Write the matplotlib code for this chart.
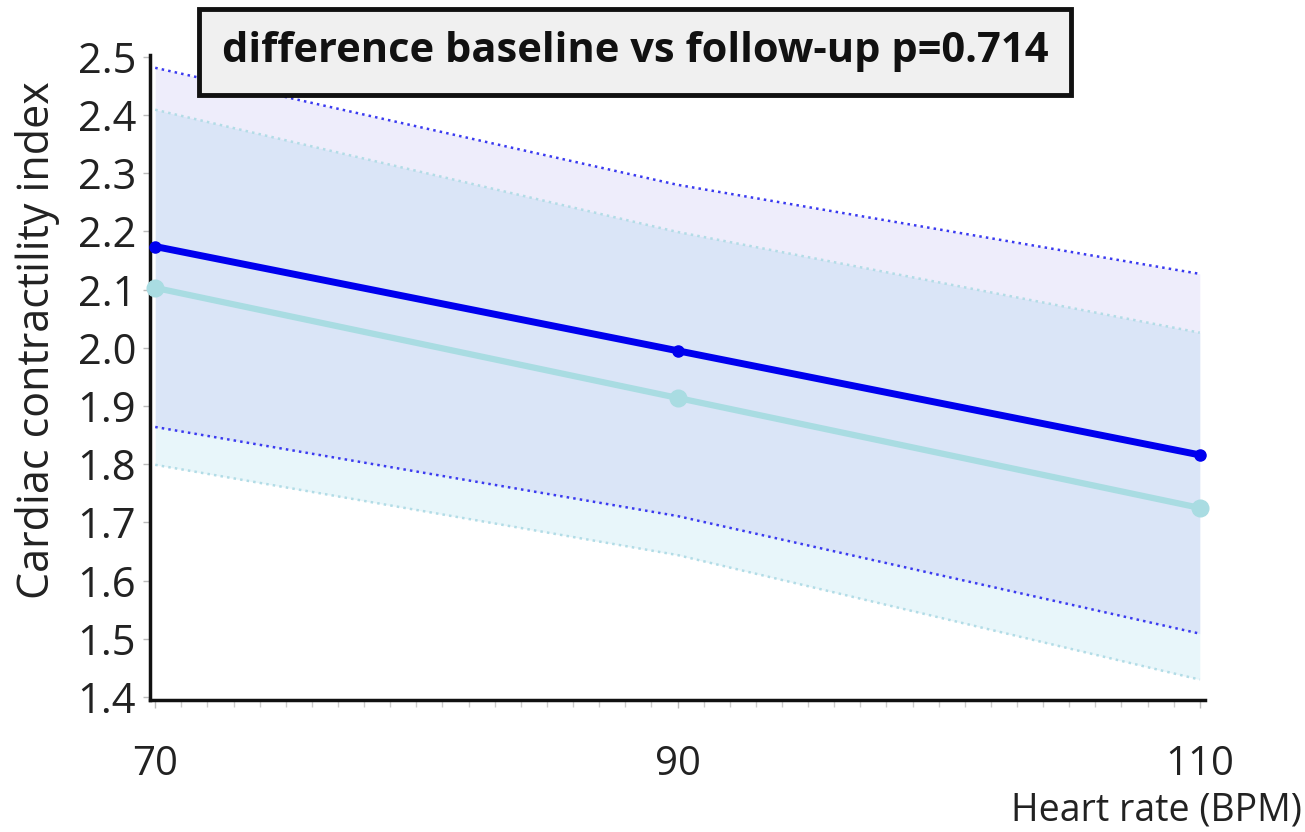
import numpy as np
import matplotlib.pyplot as plt
from matplotlib.ticker import MultipleLocator

plt.rcParams['font.family'] = ['Open Sans', 'DejaVu Sans']

# data
heart_rate = [70, 90, 110]
baseline = [2.174, 1.995, 1.816]
baseline_hi = [2.481, 2.280, 2.127]
baseline_lo = [1.864, 1.711, 1.509]
followup = [2.103, 1.914, 1.725]
followup_hi = [2.409, 2.199, 2.026]
followup_lo = [1.799, 1.644, 1.430]
y_ticks = [1.4, 1.5, 1.6, 1.7, 1.8, 1.9, 2.0, 2.1, 2.2, 2.3, 2.4, 2.5]
x_ticks = [70, 90, 110]

fig = plt.figure(figsize=(13.05, 8.32), dpi=100)
ax = fig.add_axes([150 / 1305, 1 - 700 / 832, 1055 / 1305, 645 / 832])

# confidence bands (follow-up under baseline)
ax.fill_between(heart_rate, followup_lo, followup_hi, color='#a6dcec', alpha=0.25, lw=0)
ax.fill_between(heart_rate, baseline_lo, baseline_hi, color='#7a6ee6', alpha=0.12, lw=0)
ax.plot(heart_rate, baseline_hi, ':', color='#3a3af0', lw=1.8)
ax.plot(heart_rate, baseline_lo, ':', color='#3a3af0', lw=1.8)
ax.plot(heart_rate, followup_hi, ':', color='#b2dce6', lw=1.8)
ax.plot(heart_rate, followup_lo, ':', color='#b2dce6', lw=1.8)

# mean lines
ax.plot(heart_rate, followup, '-o', color='#a9dce2', lw=4.5, ms=12, clip_on=False, zorder=4)
ax.plot(heart_rate, baseline, '-o', color='#0000ee', lw=5, ms=8, clip_on=False, zorder=5)

ax.set_xlim(69.8, 110.2)
ax.set_ylim(1.395, 2.503)
ax.set_xticks(x_ticks)
ax.set_xticklabels([str(v) for v in x_ticks])
ax.xaxis.set_minor_locator(MultipleLocator(1))
ax.set_yticks(y_ticks)
ax.set_yticklabels(['%.1f' % v for v in y_ticks])

for s in ['top', 'right']:
    ax.spines[s].set_visible(False)
for s in ['left', 'bottom']:
    ax.spines[s].set_linewidth(2.5)
    ax.spines[s].set_color('#111111')

ax.tick_params(axis='x', which='major', length=6, width=1, color='#bbbbbb',
               labelsize=29, pad=26, labelcolor='#222222')
ax.tick_params(axis='x', which='minor', length=5, width=1, color='#cccccc')
ax.tick_params(axis='y', length=5, width=1, color='#bbbbbb', labelsize=30,
               pad=5, labelcolor='#222222')

fig.text(38 / 1305, 1 - 340 / 832, 'Cardiac contractility index', rotation=90,
         fontsize=31, color='#222222', ha='center', va='center')
fig.text(1302 / 1305, 1 - 810 / 832, 'Heart rate (BPM)', fontsize=27,
         color='#222222', ha='right', va='center')

fig.text(635 / 1305, 1 - 52 / 832, 'difference baseline vs follow-up p=0.714',
         fontsize=30, fontweight='bold', color='#111111', ha='center', va='center',
         bbox=dict(boxstyle='square,pad=0.55', facecolor='#f0f0f0',
                   edgecolor='#111111', linewidth=3.5))

fig.savefig('out.png', dpi=100)
